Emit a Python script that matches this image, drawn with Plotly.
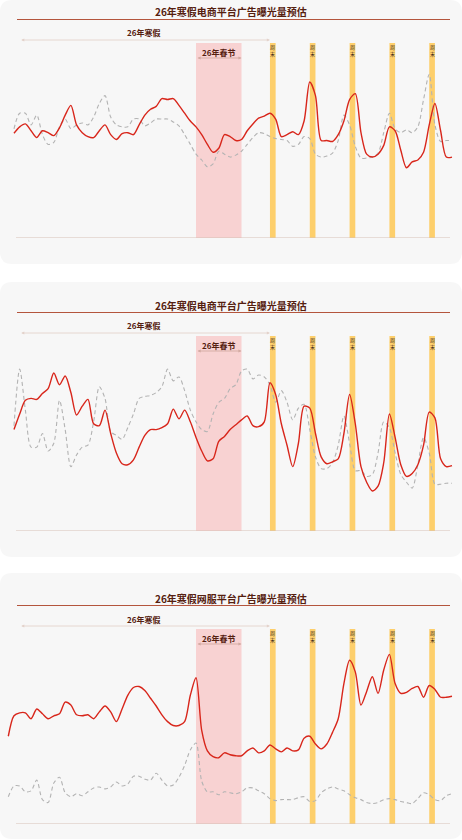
import pandas as pd
import plotly.graph_objects as go

W, H = 462, 840

# daily exposure index (0-100)
days_ec = pd.date_range("2026-01-14", periods=78)
days_game = pd.date_range("2026-01-13", periods=79)

ec1_red = [53.7, 57, 58.5, 55, 51.5, 55, 54, 52.5, 56.5, 63,
           68, 58, 54, 52, 51.5, 55, 58, 53, 50.5, 53.5,
           54, 53, 58, 63, 66, 67.5, 71.5, 71, 71.5, 68,
           64, 60, 57, 53, 48, 44, 46, 53, 52, 50,
           50.5, 55, 58.5, 61.5, 62.5, 64, 61, 52, 53, 54.5,
           53, 60, 80, 73, 50, 50, 49.5, 53, 60, 71,
           74, 54, 43, 41.5, 43, 47.5, 57, 55, 45, 36,
           39, 40, 44, 58, 69, 55, 41.5, 41.5]
ec1_grey = [56, 64, 64, 58, 63, 53, 48, 49, 57, 61,
            56, 58, 59, 58, 62, 69, 73, 62, 58, 57,
            57, 61, 61, 57.5, 59, 61, 61, 61, 59.5, 57.5,
            53, 48, 43, 40, 36.5, 38, 44.5, 43, 41.5, 42.5,
            44.5, 48, 51.5, 54, 53.5, 52, 51, 50.5, 50, 47,
            48, 52, 51, 43, 41.5, 42, 43.5, 50, 63, 58,
            47, 41, 41, 41.5, 43.5, 54, 64, 56, 54, 55.5,
            54, 57, 71, 84, 58, 49.5, 50, 50]

ec2_red = [52, 60, 67, 68, 67.5, 70.5, 73, 81, 75, 79.5,
           71, 59.5, 64, 67.5, 55, 54, 62, 50, 40, 34.5,
           34, 36.5, 43, 49, 52, 52, 53, 55, 62.5, 57.5,
           62, 56, 48, 41, 36, 37, 46, 48.5, 52, 54.5,
           57, 59, 54, 53.5, 56, 76, 70, 55, 44, 33,
           45, 64, 63, 50, 38, 34.5, 35.5, 37, 50, 70,
           55, 33, 25, 20.5, 23, 35, 60, 48, 34, 28,
           29.5, 34, 44, 61, 58, 37, 33, 33.5]
ec2_grey = [54, 83, 62, 43, 43, 50, 41, 45, 67, 52,
            33, 39, 43, 44, 56, 74, 68, 51, 49, 47,
            53, 60, 68, 69, 69.5, 71, 74, 83, 77, 79,
            72, 62, 56, 52, 51, 60, 66, 68, 73, 75,
            82, 83, 78, 80, 79, 75, 66, 72, 66, 57,
            63, 65, 52, 38, 32, 32, 35, 44, 59, 45,
            31, 31, 28, 29, 40, 56, 53, 40, 29, 25,
            22, 34, 48, 40, 24, 24, 24.5, 24.5]

game_red = [45, 55.5, 57, 57, 54, 59, 56.5, 54, 55.5, 56.5,
            62.5, 61, 56, 55.5, 56, 54, 57.5, 60.5, 57.5, 52.5,
            59, 66, 70, 70.5, 68.5, 64.5, 60.5, 56, 52.5, 50.5,
            50.5, 52.5, 66, 75, 48, 37.5, 34.5, 34, 36.5, 35.5,
            35, 35, 37.5, 39, 36.5, 37.5, 40.5, 38.5, 37, 39,
            37.5, 38, 44, 45, 41, 38.5, 41, 47, 54, 72,
            84, 78, 61, 68, 75.5, 67, 79, 87, 72, 67,
            67.5, 69.5, 70.5, 65, 71, 69, 65, 65, 65.5]
game_grey = [14, 19.5, 19.5, 16.5, 17, 22.5, 12.5, 11, 21, 24,
             16, 14, 15.5, 14.5, 16.5, 18.5, 19, 18, 19, 21.5,
             19.5, 20.5, 24.5, 24.5, 23, 22.5, 26, 22.5, 19.5, 20,
             24, 30, 38, 41.5, 22, 16.5, 16.5, 15, 16.5, 16,
             15.5, 16.5, 18.5, 18.5, 17, 15.5, 13, 12, 12.5, 12.5,
             12.5, 13.5, 14, 11.5, 12, 16, 18, 19, 18, 17,
             15, 13.5, 12.5, 11, 10.5, 11, 12.5, 13, 12.5, 11.5,
             11, 10.5, 13, 16, 15, 12.5, 12, 14.5, 15.5]

titles = ["26年寒假电商平台广告曝光量预估",
          "26年寒假电商平台广告曝光量预估",
          "26年寒假网服平台广告曝光量预估"]
break_label = "26年寒假"
festival_label = "26年春节"
weekend_label = "周<br>末"
break_start, break_end = "2026-01-15", "2026-02-28"
festival_start, festival_end = "2026-02-15", "2026-02-23"
weekends = ["2026-02-28", "2026-03-07", "2026-03-14", "2026-03-21", "2026-03-28"]

FONT = "Noto Sans CJK SC"
DARK = "#55200f"


def px(x):
    return x / W


def py(y):
    return 1 - y / H


def card_path(x0, y0, x1, y1, r=12):
    rx, ry = r / W, r / H
    a, b, c, d = px(x0), py(y1), px(x1), py(y0)
    return (f"M {a+rx},{b} L {c-rx},{b} Q {c},{b} {c},{b+ry} L {c},{d-ry} "
            f"Q {c},{d} {c-rx},{d} L {a+rx},{d} Q {a},{d} {a},{d-ry} "
            f"L {a},{b+ry} Q {a},{b} {a+rx},{b} Z")


def label(x, y, text, size, xref="paper", color=DARK):
    return dict(x=x, y=y, xref=xref, yref="paper", text=text, showarrow=False,
                xanchor="center", yanchor="middle", font=dict(family=FONT, size=size, color=color))


def span_arrow(x0, x1, y, n, color):
    return dict(x=x1, xref="x" + n, ax=x0, axref="x" + n, y=y, yref="paper", ay=0, ayref="pixel",
                text="", showarrow=True, arrowside="end+start", arrowhead=2,
                arrowsize=0.7, arrowwidth=0.9, arrowcolor=color)


base = pd.Timestamp("2026-01-14")
x_range = [base - pd.Timedelta(days=2.46), base + pd.Timedelta(days=78.76)]

panels = [(days_ec, ec1_red, ec1_grey), (days_ec, ec2_red, ec2_grey), (days_game, game_red, game_grey)]
cards = [(0, 264), (282, 557), (573, 839)]

fig = go.Figure()
shapes = []
annotations = []

for i, (days, red, grey) in enumerate(panels):
    n = "" if i == 0 else str(i + 1)
    off = 293 * i
    fig.add_trace(go.Scatter(x=days, y=grey, mode="lines", xaxis="x" + n, yaxis="y" + n,
                             line=dict(color="#b3b3b3", width=1.1, dash="4px,3px", shape="spline", smoothing=0.8),
                             hoverinfo="skip", showlegend=False))
    fig.add_trace(go.Scatter(x=days, y=red, mode="lines", xaxis="x" + n, yaxis="y" + n,
                             line=dict(color="#d8261b", width=1.4, shape="spline", smoothing=0.8),
                             hoverinfo="skip", showlegend=False))
    fig.update_layout({
        "xaxis" + n: dict(domain=[0, 1], range=x_range, visible=False, anchor="y" + n),
        "yaxis" + n: dict(domain=[py(238 + off), py(43 + off)], range=[0, 100], visible=False, anchor="x" + n),
    })

    # card background
    shapes.append(dict(type="path", path=card_path(0, cards[i][0], W, cards[i][1]), xref="paper", yref="paper",
                       fillcolor="#f7f7f7", line_width=0, layer="below"))
    # spring festival band
    shapes.append(dict(type="rect", xref="x" + n, yref="y" + n + " domain", x0=festival_start, x1=festival_end,
                       y0=0, y1=1, fillcolor="#f8d2d2", line_width=0, layer="below"))
    # weekend bars
    for wk in weekends:
        sun = pd.Timestamp(wk) + pd.Timedelta(days=1)
        shapes.append(dict(type="rect", xref="x" + n, yref="y" + n + " domain", x0=wk, x1=sun,
                           y0=0, y1=1, fillcolor="#fdcf6c", line_width=0, layer="below"))
        annotations.append(label(pd.Timestamp(wk) + pd.Timedelta(hours=12), py(50.5 + off), weekend_label, 5,
                                 xref="x" + n, color="#3a2a20"))
    # baseline
    shapes.append(dict(type="line", xref="paper", yref="y" + n, x0=px(16), x1=px(450), y0=0, y1=0,
                       line=dict(color="#d6c0b6", width=1)))
    # title and rule
    annotations.append(label(px(231), py(12 + off), "<b>" + titles[i] + "</b>", 10))
    shapes.append(dict(type="line", xref="paper", yref="paper", x0=px(17), x1=px(450), y0=py(19.5 + off),
                       y1=py(19.5 + off), line=dict(color="#b4553d", width=1.2)))
    # winter break span
    annotations.append(label(px(143), py(33 + off), "<b>" + break_label + "</b>", 8))
    annotations.append(span_arrow(break_start, break_end, py(40 + off), n, "#e3d2cb"))
    # spring festival span
    annotations.append(label(pd.Timestamp(festival_start) + pd.Timedelta(days=4), py(52 + off),
                             "<b>" + festival_label + "</b>", 8, xref="x" + n))
    annotations.append(span_arrow(festival_start, festival_end, py(58 + off), n, "#d2aaa2"))

fig.update_layout(width=W, height=H, margin=dict(l=0, r=0, t=0, b=0),
                  paper_bgcolor="white", plot_bgcolor="rgba(0,0,0,0)",
                  shapes=shapes, annotations=annotations, showlegend=False)

fig.write_html("out.html", config={"displayModeBar": False},
               post_script="document.body.style.margin='0';")
